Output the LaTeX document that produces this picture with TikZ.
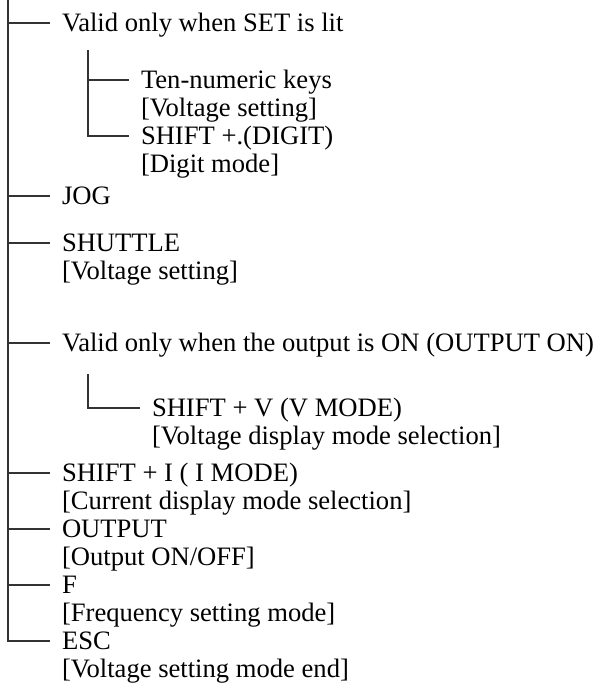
\documentclass[tikz,border=0pt]{standalone}
\usepackage{fontspec}
\setmainfont{Liberation Serif}
\usetikzlibrary{positioning}

\tikzset{
  item/.style={anchor=west, inner sep=0pt, outer sep=6pt,
               text height=8.8pt, text depth=0pt,
               font=\fontsize{13.3}{14}\selectfont},
  tree/.style={line width=0.55pt, draw=black!80},
}

\begin{document}
\begin{tikzpicture}[x=0.5pt, y=-0.5pt]
  \useasboundingbox (0,0) rectangle (603,690);

  % Keys on the main line
  \node[item] (set)     at (50,23)  {Valid only when SET is lit};
  \node[item] (jog)     at (50,196) {JOG};
  \node[item] (shuttle) at (50,243) {SHUTTLE};
  \node[item] (outon)   at (50,343) {Valid only when the output is ON (OUTPUT ON)};
  \node[item] (shifti)  at (50,473) {SHIFT + I ( I MODE)};
  \node[item] (output)  at (50,529) {OUTPUT};
  \node[item] (freq)    at (50,585) {F};
  \node[item] (esc)     at (50,641) {ESC};

  % Second lines
  \node[item] (shuttleB) at ([yshift=-14pt]shuttle.west) {[Voltage setting]};
  \node[item] (shiftiB)  at ([yshift=-14pt]shifti.west)  {[Current display mode selection]};
  \node[item] (outputB)  at ([yshift=-14pt]output.west)  {[Output ON/OFF]};
  \node[item] (freqB)    at ([yshift=-14pt]freq.west)    {[Frequency setting mode]};
  \node[item] (escB)     at ([yshift=-14pt]esc.west)     {[Voltage setting mode end]};

  % Keys valid when SET is lit
  \node[item] (tenkey)  at (129,80) {Ten-numeric keys};
  \node[item] (tenkeyB) at ([yshift=-14pt]tenkey.west)  {[Voltage setting]};
  \node[item] (digit)   at ([yshift=-14pt]tenkeyB.west) {SHIFT +.(DIGIT)};
  \node[item] (digitB)  at ([yshift=-14pt]digit.west)   {[Digit mode]};

  % Key valid when the output is ON
  \node[item] (shiftv)  at (140,408) {SHIFT + V (V MODE)};
  \node[item] (shiftvB) at ([yshift=-14pt]shiftv.west) {[Voltage display mode selection]};

  % Main line
  \coordinate (top) at (8,0);
  \draw[tree] (top) |- (esc.west);
  \foreach \k in {set,jog,shuttle,outon,shifti,output,freq}
    \draw[tree] (\k.west -| top) -- (\k.west);

  % Sub lines
  \coordinate (subA) at (88,50);
  \draw[tree] (subA) |- (digit.west);
  \draw[tree] (tenkey.west -| subA) -- (tenkey.west);
  \coordinate (subB) at (88,374);
  \draw[tree] (subB) |- (shiftv.west);
\end{tikzpicture}
\end{document}
